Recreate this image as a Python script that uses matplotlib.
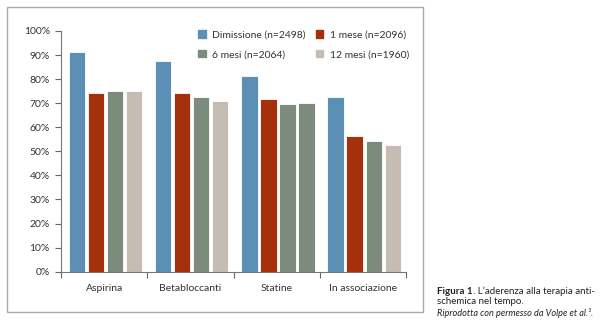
import matplotlib
matplotlib.use("Agg")
import matplotlib.pyplot as plt
import matplotlib.patches as mpatches
import numpy as np

categories = ["Aspirina", "Betabloccanti", "Statine", "In associazione"]
series = ["Dimissione (n=2498)", "1 mese (n=2096)", "6 mesi (n=2064)", "12 mesi (n=1960)"]
dimissione = [91.3, 87.4, 81.4, 72.4]
mese1 = [74.2, 74.3, 71.6, 56.2]
mesi6 = [75.1, 72.4, 69.5, 54.3]
mesi12 = [75.1, 70.9, 70.2, 52.5]
yticks = [0, 10, 20, 30, 40, 50, 60, 70, 80, 90, 100]

colors = ["#5b8fb6", "#a5300c", "#7d8b7d", "#c5bdb3"]
# the reference draws the Statine 12-month bar in the 6-month colour
override = {(3, 2): "#7d8b7d"}

plt.rcParams['font.family'] = ['Lato', 'DejaVu Sans']
fig = plt.figure(figsize=(6.01, 3.23), dpi=100)
ax = fig.add_axes([61/601, 1-271.7/323, (406-61)/601, (271.7-31)/323])

data = [dimissione, mese1, mesi6, mesi12]
pitch = 0.221
width = 0.19
x = np.arange(len(categories)) + 0.515
for j, vals in enumerate(data):
    cols = [override.get((j, i), colors[j]) for i in range(len(categories))]
    ax.bar(x + (j - 1.5) * pitch, vals, width=width, color=cols,
           edgecolor="white", linewidth=0.6, label=series[j], zorder=2)

ax.set_xlim(0, 4)
ax.set_ylim(0, 100)
ax.set_yticks(yticks)
ax.set_yticklabels([f"{v}%" for v in yticks])
ax.set_xticks([0, 1, 2, 3, 4])
ax.set_xticklabels([])
ax.set_xticks(np.arange(len(categories)) + 0.5, minor=True)
ax.set_xticklabels(categories, minor=True)
ax.tick_params(axis='x', which='minor', length=0, pad=9, labelsize=7.5, colors="#333333")
ax.tick_params(axis='x', which='major', length=4, width=0.8, color="#666666")
ax.tick_params(axis='y', length=4, width=0.8, color="#666666", labelsize=7.5, labelcolor="#333333", pad=4)
for s in ["top", "right"]:
    ax.spines[s].set_visible(False)
for s in ["left", "bottom"]:
    ax.spines[s].set_color("#777777")
    ax.spines[s].set_linewidth(0.8)

order = [0, 2, 1, 3]
handles = [mpatches.Patch(color=colors[k]) for k in order]
labels = [series[k] for k in order]
leg = ax.legend(handles, labels, ncol=2, loc="upper left",
                bbox_to_anchor=((194-61)/345, 1.02), frameon=False,
                fontsize=7.5, handlelength=0.75, handleheight=0.75, handletextpad=0.6,
                columnspacing=0.95, labelspacing=0.95, borderaxespad=0)
for t in leg.get_texts():
    t.set_color("#333333")

frame = mpatches.Rectangle((7/601, 1-312/323), (423-7)/601, (312-7)/323,
                           transform=fig.transFigure, fill=False,
                           edgecolor="#aaaaaa", linewidth=1.0)
fig.patches.append(frame)

fs = 7
t1 = fig.text(437/601, 1-291/323, "Figura 1", fontsize=fs, fontweight="bold", color="#222222", va="center")
fig.canvas.draw()
bb = t1.get_window_extent(fig.canvas.get_renderer())
fig.text(bb.x1 / fig.bbox.width, 1-291/323, ". L\u2019aderenza alla terapia anti-", fontsize=fs, color="#222222", va="center")
fig.text(437/601, 1-302/323, "schemica nel tempo.", fontsize=fs, color="#222222", va="center")
fig.text(437/601, 1-313/323, "Riprodotta con permesso da Volpe et al.\u00b9.", fontsize=6.6,
         style="italic", color="#222222", va="center")

fig.savefig("out.png", dpi=100)
